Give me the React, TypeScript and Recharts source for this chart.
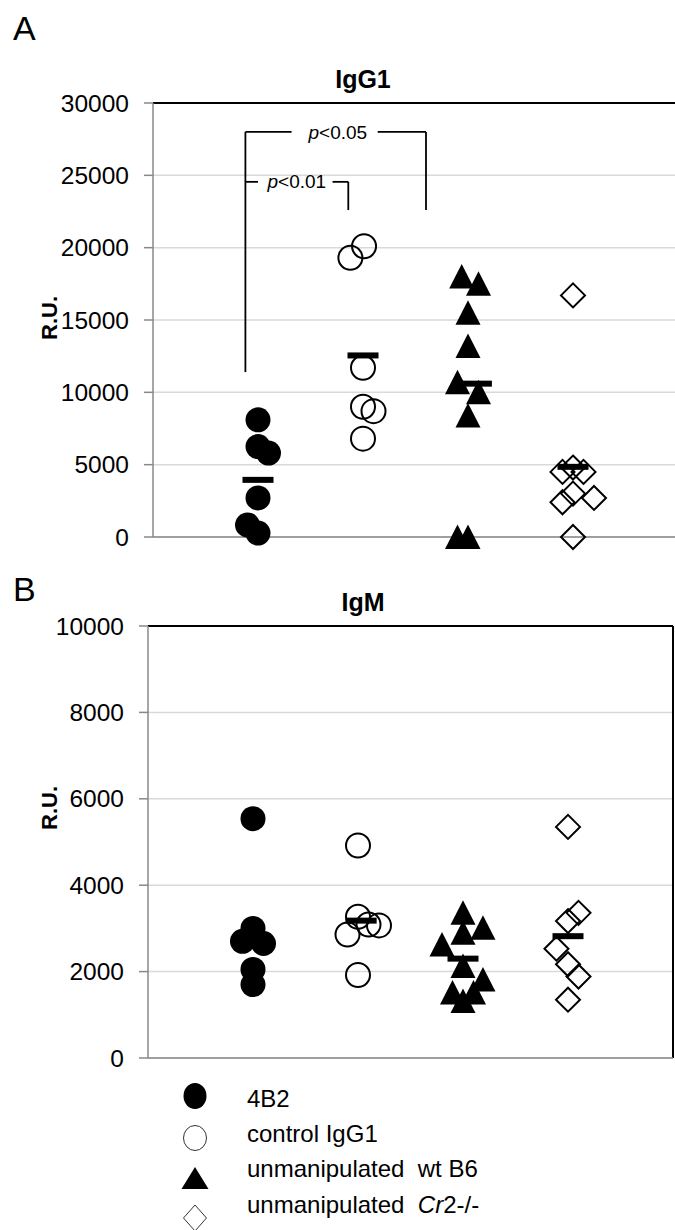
import {
  CartesianGrid,
  ReferenceDot,
  ReferenceLine,
  Scatter,
  ScatterChart,
  XAxis,
  YAxis,
} from "recharts";

const groups = ["4B2", "control IgG1", "unmanipulated  wt B6", "unmanipulated  Cr2-/-"];

// A: IgG1 (R.U.), x = group position 1..4 plus the jitter seen in the plot
const igg1Ticks = [0, 5000, 10000, 15000, 20000, 25000, 30000];
const igg1_4B2_x = [1, 1, 1.1, 1, 0.9, 1];
const igg1_4B2_y = [8100, 6250, 5800, 2700, 830, 270];
const igg1_ctrl_x = [2.01, 1.88, 2, 2, 2.1, 2];
const igg1_ctrl_y = [20100, 19300, 11700, 9000, 8700, 6800];
const igg1_wt_x = [2.94, 3.1, 3, 3, 2.9, 3.1, 3, 2.9, 3];
const igg1_wt_y = [18000, 17500, 15500, 13200, 10700, 10000, 8400, 0, 0];
const igg1_cr2_x = [4, 4, 3.9, 4.1, 4, 4.2, 3.9, 4];
const igg1_cr2_y = [16700, 4800, 4500, 4500, 3000, 2700, 2400, 0];
const igg1_mean_x = [1, 2, 3.08, 4];
const igg1_mean_y = [3950, 12550, 10600, 4850];

// B: IgM (R.U.)
const igmTicks = [0, 2000, 4000, 6000, 8000, 10000];
const igm_4B2_x = [1, 1, 0.9, 1.1, 1, 1];
const igm_4B2_y = [5540, 3000, 2700, 2650, 2050, 1700];
const igm_ctrl_x = [2, 2, 2.1, 2.2, 1.9, 2];
const igm_ctrl_y = [4920, 3270, 3090, 3070, 2860, 1920];
const igm_wt_x = [3, 3.19, 3, 2.8, 3, 3.19, 2.9, 3.1, 3];
const igm_wt_y = [3360, 3015, 2900, 2630, 2130, 1820, 1515, 1515, 1320];
const igm_cr2_x = [4, 4.1, 4, 3.89, 4, 4.1, 4];
const igm_cr2_y = [5350, 3360, 3170, 2530, 2170, 1885, 1350];
const igm_mean_x = [1, 2.03, 3, 4];
const igm_mean_y = [2850, 3180, 2300, 2820];

const xTicks = [0, 1, 2, 3, 4, 5];

const pts = (xs: number[], ys: number[]) => xs.map((x, i) => ({ x, y: ys[i] }));

const FONT = "'Liberation Sans', Arial, sans-serif";
const AXIS = "#888888";

const filledCircle = (p: any) => <circle cx={p.cx} cy={p.cy} r={12.5} fill="#000" />;
const openCircle = (p: any) => (
  <circle cx={p.cx} cy={p.cy} r={12} fill="none" stroke="#000" strokeWidth={2} />
);
const triangle = (p: any) => (
  <path
    d={`M${p.cx},${p.cy - 12.5}L${p.cx + 12.5},${p.cy + 12}L${p.cx - 12.5},${p.cy + 12}Z`}
    fill="#000"
  />
);
const diamond = (p: any) => (
  <path
    d={`M${p.cx},${p.cy - 12}L${p.cx + 12},${p.cy}L${p.cx},${p.cy + 12}L${p.cx - 12},${p.cy}Z`}
    fill="none"
    stroke="#000"
    strokeWidth={2}
  />
);
const meanBar = (p: any) => <rect x={p.cx - 15.5} y={p.cy - 3} width={31} height={6} fill="#000" />;

const pLabel = (text: string) => (p: any) => (
  <text x={p.cx} y={p.cy} dy="0.35em" textAnchor="middle" fontSize={19} fontFamily={FONT}>
    <tspan fontStyle="italic">p</tspan>
    {text}
  </text>
);

type PanelProps = {
  height: number;
  margin: { top: number; right: number; bottom: number; left: number };
  yMax: number;
  yTicks: number[];
  series: { data: { x: number; y: number }[]; shape: any }[];
  means: { x: number; y: number }[];
  boxed?: boolean;
  children?: React.ReactNode;
};

function Panel({ height, margin, yMax, yTicks, series, means, boxed, children }: PanelProps) {
  return (
    <ScatterChart width={700} height={height} margin={margin}>
      <CartesianGrid horizontal vertical={false} stroke="#d9d9d9" strokeWidth={1.5} />
      <XAxis
        type="number"
        dataKey="x"
        domain={[0, 5]}
        ticks={xTicks}
        tick={false}
        tickSize={7}
        height={20}
        axisLine={{ stroke: AXIS, strokeWidth: 1.5 }}
        tickLine={{ stroke: AXIS, strokeWidth: 1.5 }}
      />
      <YAxis
        type="number"
        dataKey="y"
        domain={[0, yMax]}
        ticks={yTicks}
        interval={0}
        width={60}
        tickSize={9}
        tickMargin={15}
        tick={{ fill: "#000", fontSize: 24.5, fontFamily: FONT }}
        axisLine={{ stroke: AXIS, strokeWidth: 1.5 }}
        tickLine={{ stroke: AXIS, strokeWidth: 1.5 }}
      />
      <ReferenceLine y={yMax} stroke="#000" strokeWidth={2} />
      {boxed && <ReferenceLine x={5} stroke="#000" strokeWidth={2} />}
      {series.map((s, i) => (
        <Scatter key={i} data={s.data} shape={s.shape} isAnimationActive={false} />
      ))}
      <Scatter data={means} shape={meanBar} isAnimationActive={false} />
      {children}
    </ScatterChart>
  );
}

const bracket = { stroke: "#000", strokeWidth: 1.8 };

export default function App() {
  return (
    <div
      style={{
        position: "absolute",
        left: 0,
        top: 0,
        width: 675,
        height: 1230,
        overflow: "hidden",
        background: "#fff",
        fontFamily: FONT,
      }}
    >
      <div style={{ position: "absolute", left: 0, top: 0 }}>
        <Panel
          height={580}
          margin={{ top: 103, right: 22, bottom: 23, left: 93 }}
          yMax={30000}
          yTicks={igg1Ticks}
          series={[
            { data: pts(igg1_4B2_x, igg1_4B2_y), shape: filledCircle },
            { data: pts(igg1_ctrl_x, igg1_ctrl_y), shape: openCircle },
            { data: pts(igg1_wt_x, igg1_wt_y), shape: triangle },
            { data: pts(igg1_cr2_x, igg1_cr2_y), shape: diamond },
          ]}
          means={pts(igg1_mean_x, igg1_mean_y)}
        >
          <ReferenceLine segment={[{ x: 0.88, y: 11400 }, { x: 0.88, y: 28000 }]} {...bracket} />
          <ReferenceLine segment={[{ x: 0.88, y: 28000 }, { x: 1.32, y: 28000 }]} {...bracket} />
          <ReferenceLine segment={[{ x: 2.14, y: 28000 }, { x: 2.6, y: 28000 }]} {...bracket} />
          <ReferenceLine segment={[{ x: 2.6, y: 28000 }, { x: 2.6, y: 22600 }]} {...bracket} />
          <ReferenceLine segment={[{ x: 0.88, y: 24550 }, { x: 1.0, y: 24550 }]} {...bracket} />
          <ReferenceLine segment={[{ x: 1.71, y: 24550 }, { x: 1.86, y: 24550 }]} {...bracket} />
          <ReferenceLine segment={[{ x: 1.86, y: 24550 }, { x: 1.86, y: 22600 }]} {...bracket} />
          <ReferenceDot x={1.76} y={28000} r={0} shape={pLabel("<0.05")} />
          <ReferenceDot x={1.37} y={24550} r={0} shape={pLabel("<0.01")} />
        </Panel>
      </div>
      <div style={{ position: "absolute", left: 0, top: 560 }}>
        <Panel
          height={520}
          margin={{ top: 66, right: 27, bottom: 2, left: 88 }}
          yMax={10000}
          yTicks={igmTicks}
          boxed
          series={[
            { data: pts(igm_4B2_x, igm_4B2_y), shape: filledCircle },
            { data: pts(igm_ctrl_x, igm_ctrl_y), shape: openCircle },
            { data: pts(igm_wt_x, igm_wt_y), shape: triangle },
            { data: pts(igm_cr2_x, igm_cr2_y), shape: diamond },
          ]}
          means={pts(igm_mean_x, igm_mean_y)}
        />
      </div>
      <svg
        width={675}
        height={1230}
        style={{ position: "absolute", left: 0, top: 0, pointerEvents: "none" }}
        fontFamily={FONT}
      >
        <text x={13} y={40} fontSize={34}>A</text>
        <text x={13} y={601} fontSize={34}>B</text>
        <text x={363} y={88} fontSize={25} fontWeight="bold" textAnchor="middle">IgG1</text>
        <text x={363} y={611} fontSize={25} fontWeight="bold" textAnchor="middle">IgM</text>
        <text
          x={49}
          y={318}
          fontSize={22}
          fontWeight="bold"
          textAnchor="middle"
          dy="0.35em"
          transform="rotate(-90 49 318)"
        >
          R.U.
        </text>
        <text
          x={49}
          y={808}
          fontSize={22}
          fontWeight="bold"
          textAnchor="middle"
          dy="0.35em"
          transform="rotate(-90 49 808)"
        >
          R.U.
        </text>
        {/* legend */}
        <ellipse cx={195} cy={1096} rx={11.5} ry={13} fill="#000" />
        <ellipse cx={195} cy={1138} rx={11.5} ry={12.5} fill="none" stroke="#333" strokeWidth={1} />
        <path d="M195,1167L208.5,1189L181.5,1189Z" fill="#000" />
        <path d="M195,1205L206.5,1218L195,1231L183.5,1218Z" fill="none" stroke="#333" strokeWidth={1} />
        <text x={247} y={1107} fontSize={24}>{groups[0]}</text>
        <text x={247} y={1142} fontSize={24}>{groups[1]}</text>
        <text x={247} y={1177} fontSize={24} style={{ whiteSpace: "pre" }}>{groups[2]}</text>
        <text x={247} y={1213} fontSize={24} style={{ whiteSpace: "pre" }}>
          {"unmanipulated  "}
          <tspan fontStyle="italic">Cr</tspan>
          {"2-/-"}
        </text>
      </svg>
    </div>
  );
}
